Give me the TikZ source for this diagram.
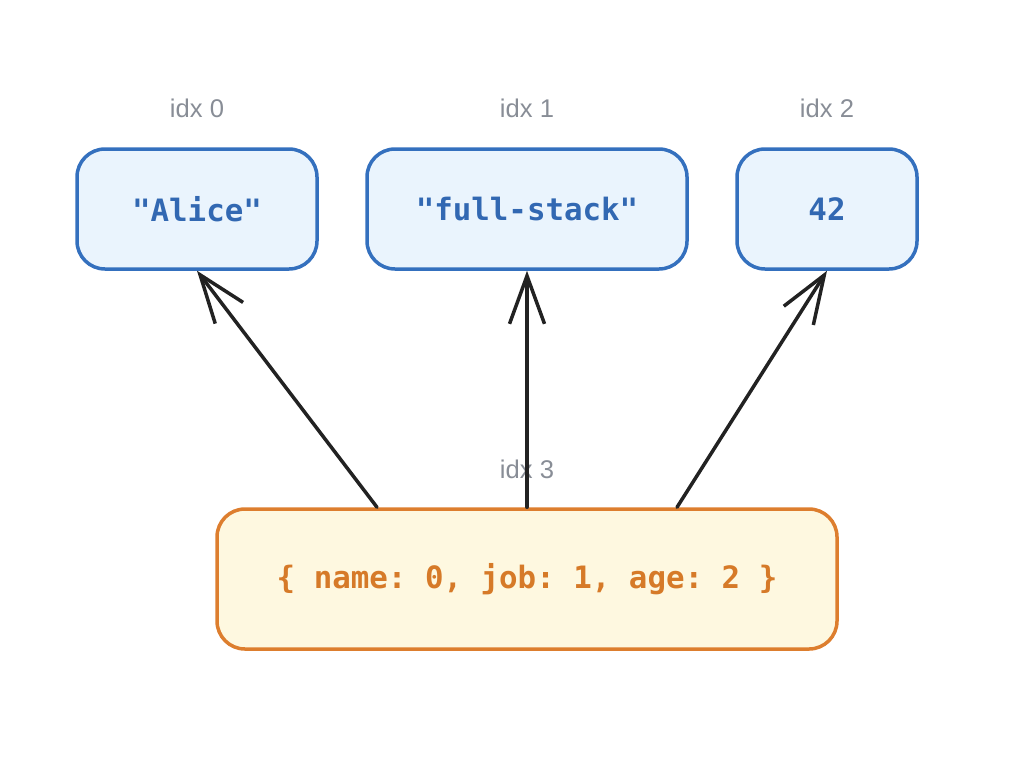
\documentclass[tikz,border=0pt]{standalone}
\usepackage{fontspec}
\setmainfont{Liberation Sans}
\setmonofont{DejaVu Sans Mono}
\usetikzlibrary{arrows.meta, positioning}
\definecolor{slotblue}{RGB}{52, 112, 190}
\definecolor{slotfill}{RGB}{234, 244, 253}
\definecolor{slottext}{RGB}{50, 104, 178}
\definecolor{mapline}{RGB}{221, 126, 46}
\definecolor{mapfill}{RGB}{254, 248, 224}
\definecolor{maptext}{RGB}{214, 122, 40}
\definecolor{idxgray}{RGB}{136, 141, 150}
\definecolor{dark}{RGB}{34, 34, 34}
\tikzset{
    valbox/.style={rectangle, rounded corners=14pt, draw=slotblue, line width=1.75pt, fill=slotfill, text=slottext, align=center, font=\fontsize{15.4}{18}\selectfont\ttfamily\bfseries, minimum height=60pt, inner sep=0pt},
    objbox/.style={valbox, draw=mapline, fill=mapfill, text=maptext, minimum height=70pt},
    idxlabel/.style={text=idxgray, font=\fontsize{12.8}{15}\selectfont, inner sep=0pt},
    arr/.style={-{Straight Barb[length=24pt, width=17.5pt, line width=1.75pt]}, line width=1.75pt, dark, line cap=round, line join=round}
}

\begin{document}
\begin{tikzpicture}[x=0.5pt, y=-0.5pt]
                \useasboundingbox (0,0) rectangle (1036,760);
                \node[valbox, minimum width=120pt] (alice) at (197,209) {"Alice"};
                \node[valbox, minimum width=160pt] (job) at (527,209) {"full-stack"};
                \node[valbox, minimum width=90pt] (age) at (827,209) {42};
                \node[objbox, minimum width=310pt] (obj) at (527,579) {\{ name: 0, job: 1, age: 2 \}};
                \node[idxlabel] at (197,108) {idx 0};
                \node[idxlabel] at (527,108) {idx 1};
                \node[idxlabel] at (827,108) {idx 2};
                \node[idxlabel] at (527,469) {idx 3};
                \coordinate (p0) at ([xshift=-75pt]obj.north);
                \coordinate (p2) at ([xshift=75pt]obj.north);
                \draw[arr] (p0)--(alice.south);
                \draw[arr] (obj.north)--(job.south);
                \draw[arr] (p2)--(age.south);
            \end{tikzpicture}
\end{document}
